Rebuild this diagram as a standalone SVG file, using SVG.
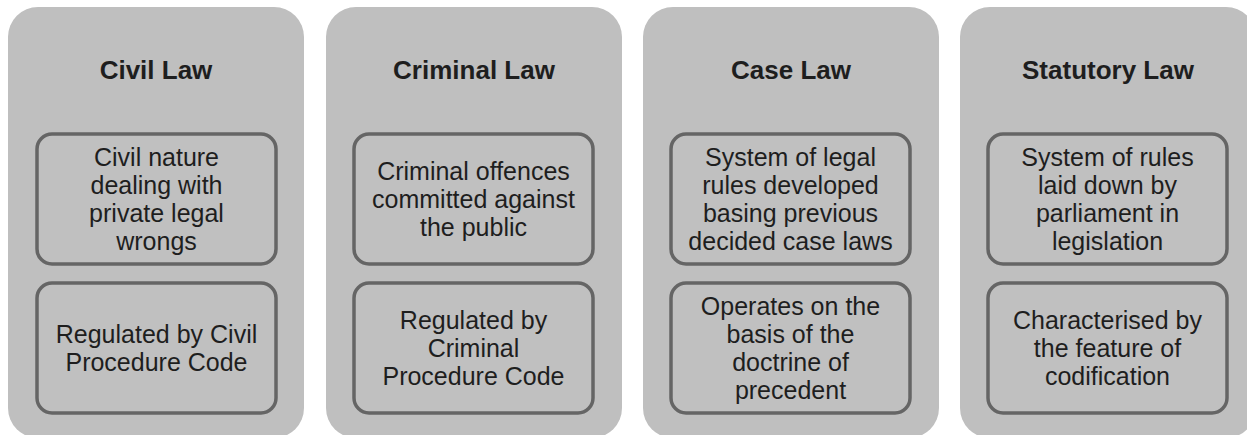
<svg xmlns="http://www.w3.org/2000/svg" width="1247" height="435" viewBox="0 0 1247 435">
<style>
.panel{fill:#bfbfbf;stroke:none}
.box{fill:#c0c0c0;stroke:#656565;stroke-width:3.5}
.title{font-family:"Liberation Sans",Arial,sans-serif;font-weight:bold;font-size:26px;fill:#1e1e1e;text-anchor:middle}
.txt{font-family:"Liberation Sans",Arial,sans-serif;font-size:25px;fill:#1e1e1e;text-anchor:middle}
</style>
<rect width="1247" height="435" fill="#ffffff"/>
<g id="civil-law">
<rect class="panel" x="8" y="7" width="296" height="431" rx="30"/>
<text class="title" x="156" y="79">Civil Law</text>
<g id="civil-1">
<rect class="box" x="37" y="134" width="239" height="130" rx="15"/>
<text class="txt"><tspan x="156.5" y="166">Civil nature</tspan><tspan x="156.5" y="194">dealing with</tspan><tspan x="156.5" y="222">private legal</tspan><tspan x="156.5" y="250">wrongs</tspan></text>
</g>
<g id="civil-2">
<rect class="box" x="37" y="283" width="239" height="130" rx="15"/>
<text class="txt"><tspan x="156.5" y="343">Regulated by Civil</tspan><tspan x="156.5" y="371">Procedure Code</tspan></text>
</g>
</g>
<g id="criminal-law">
<rect class="panel" x="326" y="7" width="296" height="431" rx="30"/>
<text class="title" x="474" y="79">Criminal Law</text>
<g id="criminal-1">
<rect class="box" x="354" y="134" width="239" height="130" rx="15"/>
<text class="txt"><tspan x="473.5" y="180">Criminal offences</tspan><tspan x="473.5" y="208">committed against</tspan><tspan x="473.5" y="236">the public</tspan></text>
</g>
<g id="criminal-2">
<rect class="box" x="354" y="283" width="239" height="130" rx="15"/>
<text class="txt"><tspan x="473.5" y="329">Regulated by</tspan><tspan x="473.5" y="357">Criminal</tspan><tspan x="473.5" y="385">Procedure Code</tspan></text>
</g>
</g>
<g id="case-law">
<rect class="panel" x="643" y="7" width="296" height="431" rx="30"/>
<text class="title" x="791" y="79">Case Law</text>
<g id="case-1">
<rect class="box" x="671" y="134" width="239" height="130" rx="15"/>
<text class="txt"><tspan x="790.5" y="166">System of legal</tspan><tspan x="790.5" y="194">rules developed</tspan><tspan x="790.5" y="222">basing previous</tspan><tspan x="790.5" y="250">decided case laws</tspan></text>
</g>
<g id="case-2">
<rect class="box" x="671" y="283" width="239" height="130" rx="15"/>
<text class="txt"><tspan x="790.5" y="315">Operates on the</tspan><tspan x="790.5" y="343">basis of the</tspan><tspan x="790.5" y="371">doctrine of</tspan><tspan x="790.5" y="399">precedent</tspan></text>
</g>
</g>
<g id="statutory-law">
<rect class="panel" x="960" y="7" width="296" height="431" rx="30"/>
<text class="title" x="1108" y="79">Statutory Law</text>
<g id="statutory-1">
<rect class="box" x="988" y="134" width="239" height="130" rx="15"/>
<text class="txt"><tspan x="1107.5" y="166">System of rules</tspan><tspan x="1107.5" y="194">laid down by</tspan><tspan x="1107.5" y="222">parliament in</tspan><tspan x="1107.5" y="250">legislation</tspan></text>
</g>
<g id="statutory-2">
<rect class="box" x="988" y="283" width="239" height="130" rx="15"/>
<text class="txt"><tspan x="1107.5" y="329">Characterised by</tspan><tspan x="1107.5" y="357">the feature of</tspan><tspan x="1107.5" y="385">codification</tspan></text>
</g>
</g>
<g id="connectors"></g>
</svg>
